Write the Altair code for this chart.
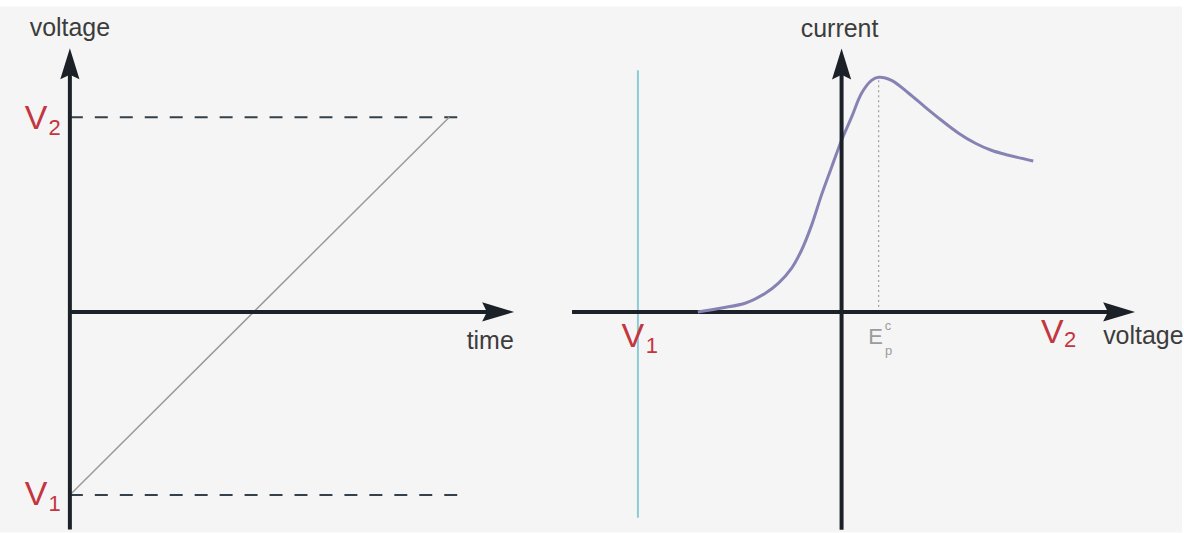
import altair as alt
import pandas as pd

# ---------------- data ----------------
# Left panel: applied potential ramps linearly from V1 to V2 over the sweep
SWEEP_TIME = [0.0, 1.0]
SWEEP_VOLT = [-0.94, 1.0]
V1_LEFT = -0.94
V2_LEFT = 1.0

# Right panel: current response against applied potential
CURVE_E = [-0.36, -0.3, -0.24, -0.19, -0.158, -0.125, -0.1, -0.075, -0.05,
           -0.025, 0.0, 0.025, 0.05, 0.075, 0.093, 0.125, 0.168, 0.21, 0.25,
           0.293, 0.335, 0.375, 0.418, 0.48]
CURVE_I = [0.0, 0.017, 0.038, 0.081, 0.123, 0.187, 0.264, 0.37, 0.5,
           0.617, 0.732, 0.83, 0.932, 0.987, 1.0, 0.987, 0.932, 0.872, 0.817,
           0.762, 0.719, 0.689, 0.668, 0.643]
V1_RIGHT = -0.51
E_PEAK = 0.093
I_PEAK = 1.0

# ---------------- layout / style ----------------
LEFT_W, RIGHT_W, H = 560, 624, 527
LX = alt.Scale(domain=[-0.1842, 1.2895], nice=False, zero=False)
LY = alt.Scale(domain=[-1.1333, 1.5692], nice=False, zero=False)
RX = alt.Scale(domain=[-0.7075, 0.8525], nice=False, zero=False)
RY = alt.Scale(domain=[-0.9404, 1.3021], nice=False, zero=False)

AXIS_COLOR = "#1b2127"
LABEL_COLOR = "#3c3c3c"
RED = "#c4363f"
GREY_TEXT = "#9c9c9c"
FONT = "Liberation Sans"
UP_HEAD = "M0,0 L0.62,2 L0,1.7 L-0.62,2 Z"
RIGHT_HEAD = "M0,0 L-2,-0.6 L-1.7,0 L-2,0.6 Z"


def df(**cols):
    return pd.DataFrame(cols)


def enc(xs, ys):
    return dict(x=alt.X("x:Q", scale=xs, axis=None),
                y=alt.Y("y:Q", scale=ys, axis=None))


def hrule(xs, ys, x0, x1, y, **style):
    return alt.Chart(df(x=[x0], x2=[x1], y=[y])).mark_rule(**style).encode(
        x=alt.X("x:Q", scale=xs, axis=None), x2="x2:Q",
        y=alt.Y("y:Q", scale=ys, axis=None))


def vrule(xs, ys, x, y0, y1, **style):
    return alt.Chart(df(x=[x], y=[y0], y2=[y1])).mark_rule(**style).encode(
        x=alt.X("x:Q", scale=xs, axis=None),
        y=alt.Y("y:Q", scale=ys, axis=None), y2="y2:Q")


def head(xs, ys, x, y, shape, size):
    return alt.Chart(df(x=[x], y=[y])).mark_point(
        shape=shape, size=size, filled=True, color=AXIS_COLOR, opacity=1,
        strokeWidth=0).encode(**enc(xs, ys))


def label(xs, ys, x, y, text, size, color, align="center"):
    return alt.Chart(df(x=[x], y=[y])).mark_text(
        text=text, fontSize=size, color=color, font=FONT, align=align,
        baseline="middle").encode(**enc(xs, ys))


# ---------------- left panel ----------------
left = alt.layer(
    hrule(LX, LY, 0.0, 1.05, V2_LEFT, color="#34404a", strokeWidth=2,
          strokeDash=[13, 12]),
    hrule(LX, LY, 0.0, 1.03, V1_LEFT, color="#34404a", strokeWidth=2,
          strokeDash=[13, 12]),
    alt.Chart(df(x=SWEEP_TIME, y=SWEEP_VOLT)).mark_line(
        color="#9a9a9a", strokeWidth=1.5).encode(**enc(LX, LY)),
    vrule(LX, LY, 0.0, -1.118, 1.24, color=AXIS_COLOR, strokeWidth=4),
    hrule(LX, LY, 0.0, 1.13, 0.0, color=AXIS_COLOR, strokeWidth=4),
    head(LX, LY, 0.0, 1.354, UP_HEAD, 961),
    head(LX, LY, 1.171, 0.0, RIGHT_HEAD, 1024),
    label(LX, LY, 0.0, 1.456, "voltage", 25, LABEL_COLOR),
    label(LX, LY, 1.108, -0.15, "time", 25, LABEL_COLOR),
    label(LX, LY, -0.089, 0.99, "V", 34, RED),
    label(LX, LY, -0.04, 0.944, "2", 22, RED),
    label(LX, LY, -0.089, -0.938, "V", 34, RED),
    label(LX, LY, -0.04, -0.985, "1", 22, RED),
).properties(width=LEFT_W, height=H)

# ---------------- right panel ----------------
right = alt.layer(
    vrule(RX, RY, V1_RIGHT, -0.877, 1.03, color="#8ccbd6", strokeWidth=2),
    vrule(RX, RY, E_PEAK, 0.0, I_PEAK, color="#8a8a8a", strokeWidth=1,
          strokeDash=[2, 3]),
    hrule(RX, RY, -0.675, 0.6925, 0.0, color=AXIS_COLOR, strokeWidth=4),
    alt.Chart(df(x=CURVE_E, y=CURVE_I)).mark_line(
        color="#8683b4", strokeWidth=3, interpolate="catmull-rom").encode(**enc(RX, RY)),
    vrule(RX, RY, 0.0, -0.928, 1.03, color=AXIS_COLOR, strokeWidth=4),
    head(RX, RY, 0.0, 1.123, UP_HEAD, 961),
    head(RX, RY, 0.735, 0.0, RIGHT_HEAD, 1024),
    label(RX, RY, -0.005, 1.204, "current", 25, LABEL_COLOR),
    label(RX, RY, -0.5225, -0.106, "V", 34, RED),
    label(RX, RY, -0.475, -0.145, "1", 22, RED),
    label(RX, RY, 0.5275, -0.089, "V", 34, RED),
    label(RX, RY, 0.572, -0.119, "2", 22, RED),
    label(RX, RY, 0.655, -0.102, "voltage", 25, LABEL_COLOR, align="left"),
    label(RX, RY, 0.085, -0.108, "E", 22, GREY_TEXT),
    label(RX, RY, 0.116, -0.058, "c", 13, GREY_TEXT),
    label(RX, RY, 0.118, -0.168, "p", 13, GREY_TEXT),
).properties(width=RIGHT_W, height=H)

chart = alt.hconcat(left, right, spacing=0).properties(
    padding={"top": 6, "left": 0, "right": 0, "bottom": 0},
    background="white",
).configure_view(stroke=None, fill="#f5f5f5")

chart.save("out.html", embed_options={"renderer": "svg", "actions": False})
